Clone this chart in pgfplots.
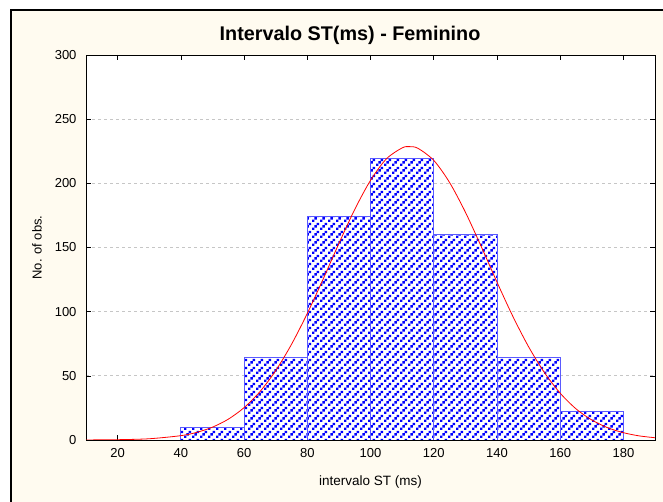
\documentclass[border=0pt]{standalone}
\usepackage{fontspec}
\setmainfont{Liberation Sans}
\usepackage{pgfplots}
\pgfplotsset{compat=1.18}
\usetikzlibrary{patterns.meta}

\definecolor{cream}{RGB}{255,251,240}
\definecolor{barblue}{RGB}{0,0,255}
\definecolor{edgeblue}{RGB}{90,90,255}

\tikzdeclarepattern{
  name=bluedots,
  type=uncolored,
  bounding box={(0pt,0pt) and (8pt,8pt)},
  tile size={(8pt,8pt)},
  code={
    \fill (0pt,0pt) rectangle (2.7pt,2.7pt);
    \fill (2.67pt,2.67pt) rectangle +(2.7pt,2.7pt);
    \fill (5.33pt,5.33pt) rectangle +(2.7pt,2.7pt);
  }
}

\begin{document}
\begin{tikzpicture}
\path[use as bounding box] (0pt,0pt) rectangle (663pt,502pt);
\fill[white] (0pt,0pt) rectangle (663pt,502pt);
\filldraw[fill=cream, draw=black, line width=2pt] (11pt,-10pt) rectangle (680pt,492pt);

\begin{axis}[
    at={(86pt,62pt)}, anchor=south west,
    scale only axis,
    width=569pt, height=385pt,
    xmin=10, xmax=190, ymin=0, ymax=300,
    xtick={20,40,...,180},
    ytick={0,50,...,300},
    tick pos=both, tick align=inside,
    major tick length=5pt,
    tick style={black, line width=0.6pt},
    axis line style={black, line width=0.8pt},
    axis background/.style={fill=white},
    ymajorgrids, grid style={dashed, gray!45, line width=0.8pt},
    /pgf/number format/assume math mode=true,
    ticklabel style={font=\fontsize{13}{15}\selectfont},
    xticklabel style={yshift=-5pt},
    yticklabel style={xshift=-6pt},
    title={\fontsize{19.8}{22}\selectfont\bfseries Intervalo ST(ms) - Feminino},
    title style={at={(axis description cs:0.464,1.036)}, anchor=center},
    xlabel={intervalo ST (ms)},
    xlabel style={at={(axis description cs:0.5,-0.108)}, anchor=center, font=\fontsize{13.5}{15}\selectfont},
    ylabel={No. of obs.},
    ylabel style={at={(axis description cs:-0.086,0.5)}, anchor=center, font=\fontsize{13}{15}\selectfont},
]
\addplot[ybar interval, draw=edgeblue, line width=0.9pt, fill=white,
    postaction={pattern=bluedots, pattern color=barblue}]
coordinates {
    (40,10) (60,64) (80,174) (100,219) (120,160) (140,64) (160,22) (180,22)
};
\addplot[red, line width=0.8pt, smooth] coordinates {
    (10,0.05) (20,0.24) (30,0.97) (40,3.38) (45,5.92) (50,10.0) (55,16.2)
    (60,25.2) (65,37.6) (70,54.0) (75,74.5) (80,98.6) (85,125.3) (90,153.1)
    (95,179.6) (100,202.3) (105,219.0) (110,227.6) (112.3,228.6) (115,227.3)
    (120,217.9) (125,200.7) (130,177.6) (135,150.9) (140,123.1) (145,96.5)
    (150,72.7) (155,52.6) (160,36.5) (165,24.3) (170,15.6) (175,9.6)
    (180,5.7) (185,3.2) (190,1.76)
};
\end{axis}
\end{tikzpicture}
\end{document}
